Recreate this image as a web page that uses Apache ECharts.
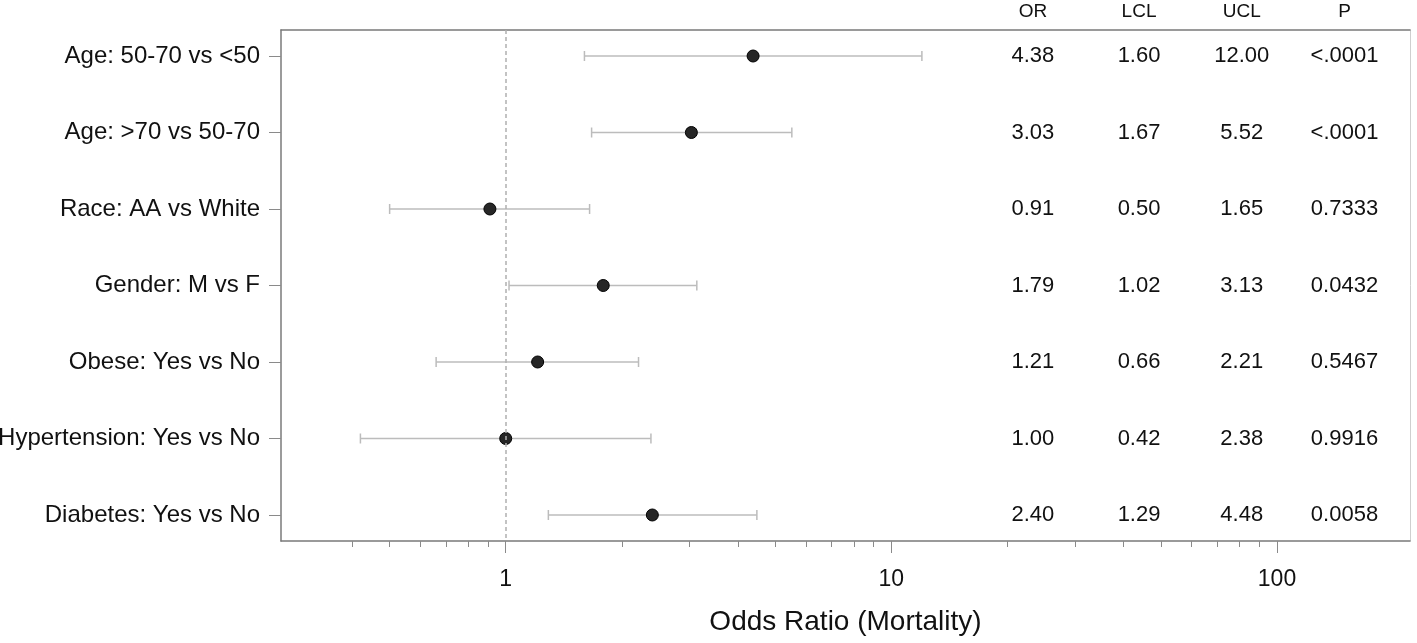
<!DOCTYPE html>
<html>
<head>
<meta charset="utf-8">
<title>Odds Ratio (Mortality)</title>
<script src="https://cdn.jsdelivr.net/npm/echarts@6/dist/echarts.min.js"></script>
<style>
  html, body { margin: 0; padding: 0; background: #fff; }
  #main { width: 1417px; height: 643px; }
</style>
</head>
<body>
<div id="main"></div>
<script>
// rows, top to bottom
var factors = ['Age: 50-70 vs <50', 'Age: >70 vs 50-70', 'Race: AA vs White', 'Gender: M vs F',
               'Obese: Yes vs No', 'Hypertension: Yes vs No', 'Diabetes: Yes vs No'];
var oddsRatio = [4.38, 3.03, 0.91, 1.79, 1.21, 1.00, 2.40];
var lowerCL   = [1.60, 1.67, 0.50, 1.02, 0.66, 0.42, 1.29];
var upperCL   = [12.00, 5.52, 1.65, 3.13, 2.21, 2.38, 4.48];
var pValues   = ['<.0001', '<.0001', '0.7333', '0.0432', '0.5467', '0.9916', '0.0058'];

var tableHeaders = ['OR', 'LCL', 'UCL', 'P'];
var majorTicks = [1, 10, 100];
var minorTicks = [0.4, 0.5, 0.6, 0.7, 0.8, 0.9, 2, 3, 4, 5, 6, 7, 8, 9,
                  20, 30, 40, 50, 60, 70, 80, 90];

// layout: table column centres as fraction of plot width
var colPos = [0.666, 0.760, 0.851, 0.942];
var FONT = '"Liberation Sans", Arial, sans-serif';

var lg = function (v) { return Math.log10(v); };
var rowIdx = factors.map(function (f, i) { return i + 1; });

var ciData = factors.map(function (f, i) { return [lg(lowerCL[i]), lg(upperCL[i]), i + 1]; });
var dotData = factors.map(function (f, i) { return [lg(oddsRatio[i]), i + 1]; });

var tableData = [];
factors.forEach(function (f, i) {
  var cells = [oddsRatio[i].toFixed(2), lowerCL[i].toFixed(2), upperCL[i].toFixed(2), pValues[i]];
  cells.forEach(function (c, j) { tableData.push([colPos[j], i + 1, c]); });
});

var myChart = echarts.init(document.getElementById('main'));

var option = {
  animation: false,
  backgroundColor: '#fff',
  textStyle: { fontFamily: FONT },
  grid: { left: 281, right: 7, top: 30, bottom: 102, show: false, containLabel: false, outerBoundsMode: 'none' },
  xAxis: [{
    // main log axis (values stored as log10)
    type: 'value',
    min: -0.5827, max: 2.3449,
    position: 'bottom',
    name: 'Odds Ratio (Mortality)',
    nameLocation: 'middle',
    nameGap: 67,
    nameTextStyle: { fontSize: 28, color: '#111', fontFamily: FONT },
    axisLine: { show: true, onZero: false, lineStyle: { color: '#7a7a7a', width: 1.5 } },
    axisTick: { show: true, length: 12, customValues: majorTicks.map(lg), lineStyle: { color: '#8a8a8a', width: 1 } },
    axisLabel: {
      customValues: majorTicks.map(lg),
      margin: 27, fontSize: 23, color: '#111', fontFamily: FONT,
      formatter: function (v) { return String(Math.round(Math.pow(10, v))); }
    },
    splitLine: { show: false }
  }, {
    // table header axis on top
    type: 'value',
    min: 0, max: 1,
    position: 'top',
    axisLine: { show: true, onZero: false, lineStyle: { color: '#7a7a7a', width: 1.5 } },
    axisTick: { show: false },
    axisLabel: {
      customValues: colPos,
      margin: 9, fontSize: 19, color: '#111', fontFamily: FONT,
      formatter: function (v, idx) {
        var k = colPos.indexOf(v);
        return tableHeaders[k >= 0 ? k : idx];
      }
    },
    splitLine: { show: false }
  }, {
    // minor ticks
    type: 'value',
    min: -0.5827, max: 2.3449,
    position: 'bottom',
    axisLine: { show: false, onZero: false },
    axisTick: { show: true, inside: false, length: 6, customValues: minorTicks.map(lg), lineStyle: { color: '#8a8a8a', width: 1 } },
    axisLabel: { show: false },
    splitLine: { show: false }
  }],
  yAxis: [{
    type: 'value',
    inverse: true,
    min: 0.66, max: 7.34,
    position: 'left',
    axisLine: { show: true, onZero: false, lineStyle: { color: '#7a7a7a', width: 1.5 } },
    axisTick: { show: true, length: 12, customValues: rowIdx, lineStyle: { color: '#8a8a8a', width: 1 } },
    axisLabel: {
      customValues: rowIdx,
      margin: 21, fontSize: 24, color: '#111', fontFamily: FONT,
      formatter: function (v) { return factors[Math.round(v) - 1]; }
    },
    splitLine: { show: false }
  }, {
    type: 'value',
    inverse: true,
    min: 0.66, max: 7.34,
    position: 'right',
    axisLine: { show: true, onZero: false, lineStyle: { color: '#cfcfcf', width: 1 } },
    axisTick: { show: false },
    axisLabel: { show: false },
    splitLine: { show: false }
  }],
  series: [{
    name: 'CI',
    type: 'custom',
    xAxisIndex: 0, yAxisIndex: 0,
    renderItem: function (params, api) {
      var y = api.value(2);
      var p1 = api.coord([api.value(0), y]);
      var p2 = api.coord([api.value(1), y]);
      var cap = 5;
      var st = { stroke: '#bcbcbc', lineWidth: 1.5 };
      return {
        type: 'group',
        children: [
          { type: 'line', shape: { x1: p1[0], y1: p1[1], x2: p2[0], y2: p2[1] }, style: st },
          { type: 'line', shape: { x1: p1[0], y1: p1[1] - cap, x2: p1[0], y2: p1[1] + cap }, style: st },
          { type: 'line', shape: { x1: p2[0], y1: p2[1] - cap, x2: p2[0], y2: p2[1] + cap }, style: st }
        ]
      };
    },
    encode: { x: [0, 1], y: 2 },
    data: ciData,
    z: 2
  }, {
    name: 'OR',
    type: 'scatter',
    xAxisIndex: 0, yAxisIndex: 0,
    symbol: 'circle',
    symbolSize: 12,
    itemStyle: { color: '#262626', borderColor: '#000', borderWidth: 1, opacity: 1 },
    data: dotData,
    markLine: {
      silent: true,
      symbol: 'none',
      label: { show: false },
      lineStyle: { color: '#b0b0b0', type: [4, 3], width: 1.5 },
      data: [{ xAxis: lg(1) }]
    },
    z: 4
  }, {
    name: 'table',
    type: 'scatter',
    xAxisIndex: 1, yAxisIndex: 0,
    symbolSize: 0,
    silent: true,
    itemStyle: { opacity: 1 },
    label: {
      show: true,
      position: 'inside',
      fontSize: 22,
      color: '#111',
      fontFamily: FONT,
      formatter: function (p) { return p.value[2]; }
    },
    data: tableData,
    z: 3
  }]
};

myChart.setOption(option);
</script>
</body>
</html>
